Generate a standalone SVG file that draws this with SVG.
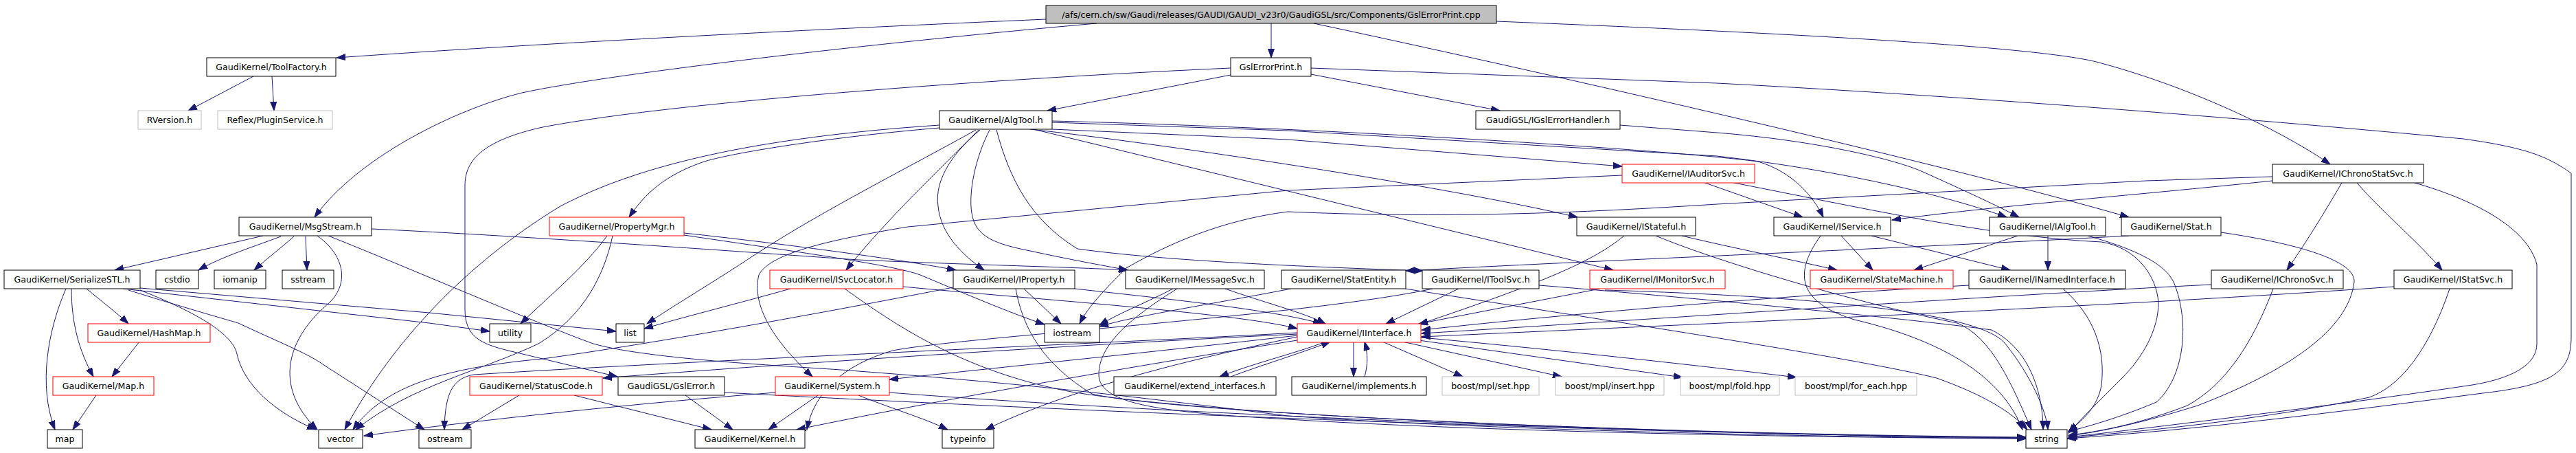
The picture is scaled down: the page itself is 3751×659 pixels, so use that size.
<svg xmlns="http://www.w3.org/2000/svg" width="3751" height="659" viewBox="0 0 3751 659">
<style>
.e{fill:none;stroke:#191970;stroke-width:1;marker-end:url(#a)}
.n rect{fill:#ffffff;stroke:#000000;stroke-width:1}
.r rect{stroke:#ff0000}
.g rect{stroke:#bfbfbf}
text{font-family:"DejaVu Sans","Liberation Sans",sans-serif;font-size:12.6px;text-anchor:middle;fill:#000000}
</style>
<defs>
<marker id="a" markerUnits="userSpaceOnUse" markerWidth="14" markerHeight="10" refX="13" refY="5" orient="auto" viewBox="0 0 14 10">
<path d="M0,0.5 L13,5 L0,9.5 z" fill="#191970" stroke="#191970" stroke-width="1"/>
</marker>
</defs>
<rect x="0" y="0" width="3751" height="659" fill="#ffffff"/>
<g id="edges">
<path class="e" d="M1523,28 C1200,42 800,62 490,84"/>
<path class="e" d="M1597,34 C1300,60 900,105 760,135 C660,160 520,230 458,316"/>
<path class="e" d="M1851,34 L1851,84"/>
<path class="e" d="M1913,34 C2200,95 2800,230 3100,316"/>
<path class="e" d="M2179,31 C2600,48 2980,68 3060,92 C3200,130 3330,195 3393,239"/>
<path class="e" d="M369,111 L274,161"/>
<path class="e" d="M396,111 L399,161"/>
<path class="e" d="M1792,109 L1525,161"/>
<path class="e" d="M1909,108 L2184,161"/>
<path class="e" d="M1909,99 L2500,121 C2900,142 3300,175 3587,202 C3680,215 3710,228 3744,252 L3744,490 C3744,540 3720,560 3615,572 C3400,600 3200,625 3010,638"/>
<path class="e" d="M1792,99 C1500,112 1000,145 790,185 C700,205 677,235 677,270 L677,450 C677,490 700,500 740,510 L899,548"/>
<path class="e" d="M1368,182 C1100,200 930,240 816,300 C700,370 580,480 502,625"/>
<path class="e" d="M1368,186 C1200,200 1050,225 1020,237 C970,255 940,280 916,316"/>
<path class="e" d="M1421,189 C1330,240 1200,305 1100,370 C1040,410 980,445 942,471"/>
<path class="e" d="M1425,189 C1370,245 1290,320 1232,393"/>
<path class="e" d="M1427,189 C1390,220 1360,260 1366,300 C1370,340 1400,370 1433,393"/>
<path class="e" d="M1441,189 C1420,230 1410,280 1415,310 C1420,345 1450,355 1500,365 C1560,378 1600,385 1642,393"/>
<path class="e" d="M1451,189 C1470,260 1500,320 1569,362 C1700,380 1900,388 2072,394"/>
<path class="e" d="M1505,188 L2349,393"/>
<path class="e" d="M1500,188 C1700,210 2100,270 2297,316"/>
<path class="e" d="M1532,188 L1875,203 L2362,242"/>
<path class="e" d="M1532,176 C1900,185 2400,215 2560,235 C2610,250 2640,285 2655,316"/>
<path class="e" d="M1532,178 L1875,190 L2500,227 C2700,250 2850,290 2922,316"/>
<path class="e" d="M2359,182 L2500,193 C2650,205 2763,233 2800,250 C2860,277 2910,300 2940,316"/>
<path class="e" d="M2480,265 L2625,316"/>
<path class="e" d="M2520,265 C2700,300 2900,345 3060,352 C3110,360 3140,400 3143,440 C3143,480 3120,520 3090,550 C3050,590 3025,615 3012,630"/>
<path class="e" d="M2362,255 L1875,277 L1322,330 C1200,350 1120,370 1105,400 C1095,440 1120,490 1183,548"/>
<path class="e" d="M383,343 L167,393"/>
<path class="e" d="M409,344 C360,362 320,375 289,393"/>
<path class="e" d="M428,344 C410,360 390,375 370,393"/>
<path class="e" d="M445,344 L447,393"/>
<path class="e" d="M462,343 C500,370 510,410 480,440 C420,490 395,560 462,625"/>
<path class="e" d="M478,343 C560,375 780,470 864,500 C950,525 1200,535 1250,540 C1450,555 1600,570 1875,605 C2200,628 2700,636 2950,638"/>
<path class="e" d="M541,333 C800,345 1200,375 1250,378 C1400,385 1550,388 1642,393"/>
<path class="e" d="M884,343 C850,390 800,430 758,471"/>
<path class="e" d="M892,343 C880,400 850,460 784,500 C700,540 600,560 518,625"/>
<path class="e" d="M996,339 C1100,350 1300,375 1392,393"/>
<path class="e" d="M996,342 C1150,365 1300,385 1340,400 C1400,425 1470,455 1521,472"/>
<path class="e" d="M96,420 C70,480 55,560 80,625"/>
<path class="e" d="M104,420 C104,470 115,510 136,548"/>
<path class="e" d="M126,420 C150,440 170,455 187,471"/>
<path class="e" d="M204,419 L625,455 L897,482"/>
<path class="e" d="M179,420 L625,470 L713,482"/>
<path class="e" d="M204,422 C300,460 340,490 345,515 C355,560 400,600 460,625"/>
<path class="e" d="M187,422 C260,445 330,465 347,470 C400,495 450,515 470,530 L618,625"/>
<path class="e" d="M203,497 L163,548"/>
<path class="e" d="M140,575 L106,625"/>
<path class="e" d="M1151,420 C1080,440 1000,460 938,478"/>
<path class="e" d="M1315,417 C1500,435 1800,455 1889,478"/>
<path class="e" d="M1230,420 C1300,470 1400,540 1560,570 C1800,610 2500,632 2950,636"/>
<path class="e" d="M1388,418 C1200,455 950,500 790,522 C650,535 560,560 514,625"/>
<path class="e" d="M1491,420 L1545,471"/>
<path class="e" d="M1479,420 C1490,480 1520,530 1590,573 C1700,600 2400,632 2950,637"/>
<path class="e" d="M1565,420 C1700,435 1850,450 1925,471"/>
<path class="e" d="M1708,420 C1670,440 1630,455 1601,473"/>
<path class="e" d="M1714,420 C1650,460 1600,500 1600,545 C1600,590 1700,600 1875,610 C2200,630 2700,637 2950,638"/>
<path class="e" d="M1784,420 C1840,440 1900,455 1930,471"/>
<path class="e" d="M1880,420 C1750,445 1650,460 1601,475"/>
<path class="e" d="M2046,420 C2300,460 2700,520 2820,550 C2890,575 2930,600 2952,625"/>
<path class="e" d="M2124,420 L2018,471"/>
<path class="e" d="M2086,420 C1900,460 1400,490 1300,510 C1230,530 1185,570 1175,625"/>
<path class="e" d="M2241,415 C2550,440 2830,470 2900,480 C2960,510 2975,580 2975,625"/>
<path class="e" d="M2330,420 L2066,471"/>
<path class="e" d="M2337,422 C2600,430 2880,450 2920,500 C2960,550 2980,600 2982,625"/>
<path class="e" d="M2365,343 C2320,380 2250,410 2066,472"/>
<path class="e" d="M2449,343 C2520,360 2620,380 2675,393"/>
<path class="e" d="M2411,343 C2500,380 2700,440 2850,470 C2900,490 2930,560 2958,625"/>
<path class="e" d="M2681,343 L2727,393"/>
<path class="e" d="M2725,343 L2927,393"/>
<path class="e" d="M2651,343 C2610,400 2620,440 2700,465 C2850,500 2920,560 2945,625"/>
<path class="e" d="M2938,343 L2787,393"/>
<path class="e" d="M2982,343 L2982,393"/>
<path class="e" d="M3040,343 C3100,360 3150,380 3165,410 C3190,470 3180,550 3140,585 C3080,610 3040,620 3012,628"/>
<path class="e" d="M3100,343 C2800,360 2300,380 2047,394"/>
<path class="e" d="M3234,338 C3350,355 3430,380 3428,410 C3420,480 3330,540 3200,590 C3120,615 3060,628 3012,634"/>
<path class="e" d="M2867,415 C2600,430 2300,455 2070,480"/>
<path class="e" d="M3004,420 C3050,460 3066,510 3060,560 C3055,590 3035,610 3012,627"/>
<path class="e" d="M3309,263 C3100,285 2900,300 2755,320"/>
<path class="e" d="M3309,257 L3125,263 L2500,297 C2300,310 2100,318 1875,308 C1780,320 1700,355 1640,390 C1610,420 1585,445 1572,471"/>
<path class="e" d="M3410,266 C3390,300 3360,350 3330,393"/>
<path class="e" d="M3432,266 C3470,310 3520,350 3556,393"/>
<path class="e" d="M3516,266 C3600,290 3680,330 3694,385 L3694,500 C3694,530 3660,550 3600,560 C3400,590 3150,620 3012,636"/>
<path class="e" d="M3220,414 C2900,430 2400,465 2070,485"/>
<path class="e" d="M3310,420 C3280,500 3240,560 3185,590 C3120,615 3060,628 3012,633"/>
<path class="e" d="M3486,417 C3100,445 2500,470 2070,490"/>
<path class="e" d="M3567,420 C3540,500 3500,560 3450,578 C3300,610 3100,630 3012,636"/>
<path class="e" d="M1971,497 L1971,548"/>
<path class="e" d="M1987,548 C1992,530 1992,515 1987,497"/>
<path class="e" d="M1930,497 C1900,510 1820,530 1776,548"/>
<path class="e" d="M1792,548 C1840,530 1900,512 1937,497"/>
<path class="e" d="M2013,497 L2130,548"/>
<path class="e" d="M2042,497 L2274,548"/>
<path class="e" d="M2066,495 L2450,549"/>
<path class="e" d="M2069,491 C2300,512 2500,535 2616,549"/>
<path class="e" d="M1889,490 C1700,530 1550,570 1435,625"/>
<path class="e" d="M1889,495 C1700,525 1400,575 1160,625"/>
<path class="e" d="M1889,488 C1700,510 1450,535 1295,552"/>
<path class="e" d="M1889,486 C1600,500 1200,525 878,550"/>
<path class="e" d="M1889,484 C1600,500 1000,525 690,545 C660,550 648,570 647,625"/>
<path class="e" d="M1129,571 C950,585 700,610 530,634"/>
<path class="e" d="M1191,575 L1119,625"/>
<path class="e" d="M1250,575 C1300,595 1350,610 1380,625"/>
<path class="e" d="M1295,571 C1600,595 2300,630 2950,637"/>
<path class="e" d="M756,575 L673,625"/>
<path class="e" d="M836,575 L1036,625"/>
<path class="e" d="M998,575 L1067,625"/>
<path class="e" d="M1055,571 C1500,595 2300,630 2950,637"/>
</g>
<g id="n_root" class="n"><rect x="1523" y="8" width="656" height="26" style="fill:#bfbfbf"/><text x="1851" y="25.5">/afs/cern.ch/sw/Gaudi/releases/GAUDI/GAUDI_v23r0/GaudiGSL/src/Components/GslErrorPrint.cpp</text></g>
<g id="n_toolfactory" class="n"><rect x="301" y="84" width="188" height="27"/><text x="395" y="102">GaudiKernel/ToolFactory.h</text></g>
<g id="n_gslerrorprint_h" class="n"><rect x="1792" y="84" width="117" height="27"/><text x="1850.5" y="102">GslErrorPrint.h</text></g>
<g id="n_rversion" class="n g"><rect x="201" y="161" width="92" height="27"/><text x="247" y="179">RVersion.h</text></g>
<g id="n_pluginservice" class="n g"><rect x="317" y="161" width="167" height="27"/><text x="400.5" y="179">Reflex/PluginService.h</text></g>
<g id="n_algtool" class="n"><rect x="1368" y="161" width="164" height="27"/><text x="1450" y="179">GaudiKernel/AlgTool.h</text></g>
<g id="n_igslerrorhandler" class="n"><rect x="2149" y="161" width="210" height="27"/><text x="2254" y="179">GaudiGSL/IGslErrorHandler.h</text></g>
<g id="n_iauditorsvc" class="n r"><rect x="2362" y="239" width="193" height="27"/><text x="2458.5" y="257">GaudiKernel/IAuditorSvc.h</text></g>
<g id="n_ichronostatsvc" class="n"><rect x="3309" y="239" width="220" height="27"/><text x="3419" y="257">GaudiKernel/IChronoStatSvc.h</text></g>
<g id="n_msgstream" class="n"><rect x="348" y="316" width="193" height="27"/><text x="444.5" y="334">GaudiKernel/MsgStream.h</text></g>
<g id="n_propertymgr" class="n r"><rect x="800" y="316" width="196" height="27"/><text x="898" y="334">GaudiKernel/PropertyMgr.h</text></g>
<g id="n_istateful" class="n"><rect x="2296" y="316" width="173" height="27"/><text x="2382.5" y="334">GaudiKernel/IStateful.h</text></g>
<g id="n_iservice" class="n"><rect x="2583" y="316" width="170" height="27"/><text x="2668" y="334">GaudiKernel/IService.h</text></g>
<g id="n_ialgtool" class="n"><rect x="2897" y="316" width="169" height="27"/><text x="2981.5" y="334">GaudiKernel/IAlgTool.h</text></g>
<g id="n_stat" class="n"><rect x="3089" y="316" width="145" height="27"/><text x="3161.5" y="334">GaudiKernel/Stat.h</text></g>
<g id="n_serializestl" class="n"><rect x="6" y="393" width="198" height="27"/><text x="105" y="411">GaudiKernel/SerializeSTL.h</text></g>
<g id="n_cstdio" class="n"><rect x="227" y="393" width="62" height="27"/><text x="258" y="411">cstdio</text></g>
<g id="n_iomanip" class="n"><rect x="312" y="393" width="75" height="27"/><text x="349.5" y="411">iomanip</text></g>
<g id="n_sstream" class="n"><rect x="411" y="393" width="75" height="27"/><text x="448.5" y="411">sstream</text></g>
<g id="n_isvclocator" class="n r"><rect x="1121" y="393" width="194" height="27"/><text x="1218" y="411">GaudiKernel/ISvcLocator.h</text></g>
<g id="n_iproperty" class="n"><rect x="1388" y="393" width="177" height="27"/><text x="1476.5" y="411">GaudiKernel/IProperty.h</text></g>
<g id="n_imessagesvc" class="n"><rect x="1639" y="393" width="202" height="27"/><text x="1740" y="411">GaudiKernel/IMessageSvc.h</text></g>
<g id="n_statentity" class="n"><rect x="1866" y="393" width="181" height="27"/><text x="1956.5" y="411">GaudiKernel/StatEntity.h</text></g>
<g id="n_itoolsvc" class="n"><rect x="2071" y="393" width="170" height="27"/><text x="2156" y="411">GaudiKernel/IToolSvc.h</text></g>
<g id="n_imonitorsvc" class="n r"><rect x="2315" y="393" width="197" height="27"/><text x="2413.5" y="411">GaudiKernel/IMonitorSvc.h</text></g>
<g id="n_statemachine" class="n r"><rect x="2636" y="393" width="208" height="27"/><text x="2740" y="411">GaudiKernel/StateMachine.h</text></g>
<g id="n_inamedinterface" class="n"><rect x="2867" y="393" width="228" height="27"/><text x="2981" y="411">GaudiKernel/INamedInterface.h</text></g>
<g id="n_ichronosvc" class="n"><rect x="3220" y="393" width="192" height="27"/><text x="3316" y="411">GaudiKernel/IChronoSvc.h</text></g>
<g id="n_istatsvc" class="n"><rect x="3486" y="393" width="172" height="27"/><text x="3572" y="411">GaudiKernel/IStatSvc.h</text></g>
<g id="n_hashmap" class="n r"><rect x="128" y="471" width="178" height="27"/><text x="217" y="489">GaudiKernel/HashMap.h</text></g>
<g id="n_utility" class="n"><rect x="713" y="471" width="60" height="27"/><text x="743" y="489">utility</text></g>
<g id="n_list" class="n"><rect x="897" y="471" width="41" height="27"/><text x="917.5" y="489">list</text></g>
<g id="n_iostream" class="n"><rect x="1521" y="471" width="80" height="27"/><text x="1561" y="489">iostream</text></g>
<g id="n_iinterface" class="n r"><rect x="1889" y="471" width="180" height="27"/><text x="1979" y="489">GaudiKernel/IInterface.h</text></g>
<g id="n_map_h" class="n r"><rect x="77" y="548" width="147" height="27"/><text x="150.5" y="566">GaudiKernel/Map.h</text></g>
<g id="n_statuscode" class="n r"><rect x="684" y="548" width="193" height="27"/><text x="780.5" y="566">GaudiKernel/StatusCode.h</text></g>
<g id="n_gslerror" class="n"><rect x="900" y="548" width="155" height="27"/><text x="977.5" y="566">GaudiGSL/GslError.h</text></g>
<g id="n_system" class="n r"><rect x="1129" y="548" width="166" height="27"/><text x="1212" y="566">GaudiKernel/System.h</text></g>
<g id="n_extend_interfaces" class="n"><rect x="1622" y="548" width="236" height="27"/><text x="1740" y="566">GaudiKernel/extend_interfaces.h</text></g>
<g id="n_implements" class="n"><rect x="1881" y="548" width="196" height="27"/><text x="1979" y="566">GaudiKernel/implements.h</text></g>
<g id="n_set" class="n g"><rect x="2100" y="548" width="141" height="27"/><text x="2170.5" y="566">boost/mpl/set.hpp</text></g>
<g id="n_insert" class="n g"><rect x="2265" y="548" width="158" height="27"/><text x="2344" y="566">boost/mpl/insert.hpp</text></g>
<g id="n_fold" class="n g"><rect x="2447" y="548" width="144" height="27"/><text x="2519" y="566">boost/mpl/fold.hpp</text></g>
<g id="n_for_each" class="n g"><rect x="2614" y="548" width="177" height="27"/><text x="2702.5" y="566">boost/mpl/for_each.hpp</text></g>
<g id="n_map" class="n"><rect x="69" y="625" width="51" height="27"/><text x="94.5" y="643">map</text></g>
<g id="n_vector" class="n"><rect x="464" y="625" width="64" height="27"/><text x="496" y="643">vector</text></g>
<g id="n_ostream" class="n"><rect x="610" y="625" width="76" height="27"/><text x="648" y="643">ostream</text></g>
<g id="n_kernel" class="n"><rect x="1012" y="625" width="160" height="27"/><text x="1092" y="643">GaudiKernel/Kernel.h</text></g>
<g id="n_typeinfo" class="n"><rect x="1372" y="625" width="75" height="27"/><text x="1409.5" y="643">typeinfo</text></g>
<g id="n_string" class="n"><rect x="2950" y="625" width="60" height="27"/><text x="2980" y="643">string</text></g>
</svg>
